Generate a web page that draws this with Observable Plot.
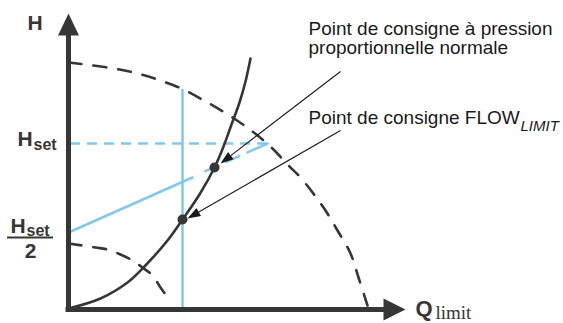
<!DOCTYPE html>
<html><head><meta charset="utf-8">
<script src="https://cdn.jsdelivr.net/npm/d3@7"></script>
<script src="https://cdn.jsdelivr.net/npm/@observablehq/plot@0.6"></script>
<style>html,body{margin:0;padding:0;background:#fff}svg{display:block}</style>
</head><body><div id="chart"></div>
<script>
// ---- data (schematic units: Q flow, H head) ----
const maxCurveQ = [0, 39, 65, 89, 115, 139, 164, 184, 204, 220, 232, 255, 269, 282, 290, 299];
const maxCurveH = [247, 242, 237, 230, 220, 207, 192, 178, 161, 144, 132, 102, 79, 56, 32, 4];
const minCurveQ = [0, 27, 39, 52, 64, 74, 84, 92, 100];
const minCurveH = [66, 62, 60, 55, 49, 42, 34, 22, 11];
const systemQ = [0, 32, 59, 75, 99, 114, 131, 146, 155, 163, 171, 177, 182];
const systemH = [1, 11, 27, 42, 69, 90, 115, 142, 163, 185, 207, 228, 251];
const Qlimit = 114, HatQlimit = 220;
const Hset = 166, HsetEndQ = 199;
const propSolidQ = [0, 124], propSolidH = [77, 132];
const propDashQ = [199, 134], propDashH = [166, 137];
const pointQ = [146, 114], pointH = [142, 90];
const arrowFromQ = [272, 272], arrowFromH = [238, 179];
const arrowToQ = [152, 119], arrowToH = [146, 91];
const axisTopH = 296, axisEndQ = 337;
const annotations = ["Point de consigne à pression", "proportionnelle normale", "Point de consigne FLOW"];

const pts = (X, Y) => X.map((x, i) => ({x, y: Y[i]}));
function head(x1, y1, x2, y2, len, hw) {
  const dx = x2 - x1, dy = y2 - y1, L = Math.hypot(dx, dy), ux = dx / L, uy = dy / L;
  const bx = x2 - ux * len, by = y2 - uy * len;
  return [{x: x2, y: y2}, {x: bx - uy * hw, y: by + ux * hw}, {x: bx + uy * hw, y: by - ux * hw}];
}
const dark = "#363636", blue = "#82c8ec", ink = "#1a1a1a";
const sans = "Liberation Sans, Arial, Helvetica, sans-serif";
const serif = "Liberation Serif, Times New Roman, serif";

const arrows = arrowFromQ.map((q, i) => ({x1: q, y1: arrowFromH[i], x2: arrowToQ[i], y2: arrowToH[i]}));
const arrowLinks = arrows.map(a => { const h = head(a.x1, a.y1, a.x2, a.y2, 13, 4.5); return {x1: a.x1, y1: a.y1, x2: (h[1].x + h[2].x) / 2, y2: (h[1].y + h[2].y) / 2}; });

const marks = [
  // blue construction lines
  Plot.ruleX([Qlimit], {y1: 0, y2: HatQlimit, stroke: blue, strokeWidth: 2.5}),
  Plot.ruleY([Hset], {x1: 2, x2: HsetEndQ, stroke: blue, strokeWidth: 2.5, strokeDasharray: "10,7"}),
  Plot.line(pts(propSolidQ, propSolidH), {x: "x", y: "y", stroke: blue, strokeWidth: 2.5}),
  Plot.line(pts(propDashQ, propDashH), {x: "x", y: "y", stroke: blue, strokeWidth: 2.5, strokeDasharray: "22,9,14,9,14,60"}),
  // pump curves
  Plot.line(pts(maxCurveQ, maxCurveH), {x: "x", y: "y", curve: "catmull-rom", stroke: dark, strokeWidth: 2.6, strokeDasharray: "13,12"}),
  Plot.line(pts(minCurveQ, minCurveH), {x: "x", y: "y", curve: "catmull-rom", stroke: dark, strokeWidth: 2.6, strokeDasharray: "13,12"}),
  Plot.line(pts(systemQ, systemH), {x: "x", y: "y", curve: "catmull-rom", stroke: dark, strokeWidth: 2.6}),
  // axes
  Plot.ruleX([0], {y1: 0, y2: axisTopH - 22, stroke: dark, strokeWidth: 5, strokeLinecap: "square"}),
  Plot.ruleY([0], {x1: 0, x2: axisEndQ - 22, stroke: dark, strokeWidth: 5, strokeLinecap: "square"}),
  Plot.line(head(0, 0, 0, axisTopH, 22, 10.5), {x: "x", y: "y", fill: dark, stroke: "none"}),
  Plot.line(head(0, 0, axisEndQ, 0, 22, 11), {x: "x", y: "y", fill: dark, stroke: "none"}),
  // operating points
  Plot.dot(pts(pointQ, pointH), {x: "x", y: "y", r: 5, fill: dark, stroke: "none"}),
  // pointer arrows
  Plot.link(arrowLinks, {x1: "x1", y1: "y1", x2: "x2", y2: "y2", stroke: ink, strokeWidth: 1.1}),
  ...arrows.map(a => Plot.line(head(a.x1, a.y1, a.x2, a.y2, 13, 4.5), {x: "x", y: "y", fill: ink, stroke: "none"})),
  // axis labels
  Plot.text(["H"], {x: -41, y: 280, text: d => d, textAnchor: "start", lineAnchor: "bottom", fontFamily: sans, fontWeight: "bold", fontSize: 21, fill: dark}),
  Plot.text(["H"], {x: -51, y: 164, text: d => d, textAnchor: "start", lineAnchor: "bottom", fontFamily: sans, fontWeight: "bold", fontSize: 21, fill: dark}),
  Plot.text(["set"], {x: -35, y: 160, text: d => d, textAnchor: "start", lineAnchor: "bottom", fontFamily: sans, fontWeight: "bold", fontSize: 16, fill: dark}),
  Plot.text(["H"], {x: -58, y: 77, text: d => d, textAnchor: "start", lineAnchor: "bottom", fontFamily: sans, fontWeight: "bold", fontSize: 21, fill: dark}),
  Plot.text(["set"], {x: -42, y: 74, text: d => d, textAnchor: "start", lineAnchor: "bottom", fontFamily: sans, fontWeight: "bold", fontSize: 16, fill: dark}),
  Plot.ruleY([72], {x1: -61, x2: -15, stroke: dark, strokeWidth: 2}),
  Plot.text(["2"], {x: -38, y: 52, text: d => d, textAnchor: "middle", lineAnchor: "bottom", fontFamily: sans, fontWeight: "bold", fontSize: 21, fill: dark}),
  Plot.text(["Q"], {x: 347, y: -6, text: d => d, textAnchor: "start", lineAnchor: "bottom", fontFamily: sans, fontWeight: "bold", fontSize: 22, fill: dark}),
  Plot.text(["limit"], {x: 367, y: -9, text: d => d, textAnchor: "start", lineAnchor: "bottom", fontFamily: serif, fontSize: 19, fill: dark}),
  // annotations
  Plot.text([annotations[0]], {x: 240, y: 275, text: d => d, textAnchor: "start", lineAnchor: "bottom", fontFamily: sans, fontSize: 19, fill: ink}),
  Plot.text([annotations[1]], {x: 240, y: 256, text: d => d, textAnchor: "start", lineAnchor: "bottom", fontFamily: sans, fontSize: 19, fill: ink}),
  Plot.text([annotations[2]], {x: 240, y: 186, text: d => d, textAnchor: "start", lineAnchor: "bottom", fontFamily: sans, fontSize: 19, fill: ink}),
  Plot.text(["LIMIT"], {x: 452, y: 179, text: d => d, textAnchor: "start", lineAnchor: "bottom", fontFamily: sans, fontStyle: "italic", fontSize: 15, fill: ink})
];

const chart = Plot.plot({
  width: 563, height: 323,
  marginTop: 0, marginRight: 0, marginBottom: 0, marginLeft: 0,
  x: {domain: [-68, 495], range: [0, 563], axis: null},
  y: {domain: [-14, 309], range: [323, 0], axis: null},
  style: {background: "#fff", overflow: "visible"},
  marks
});
document.getElementById("chart").append(chart);
</script>
</body></html>
